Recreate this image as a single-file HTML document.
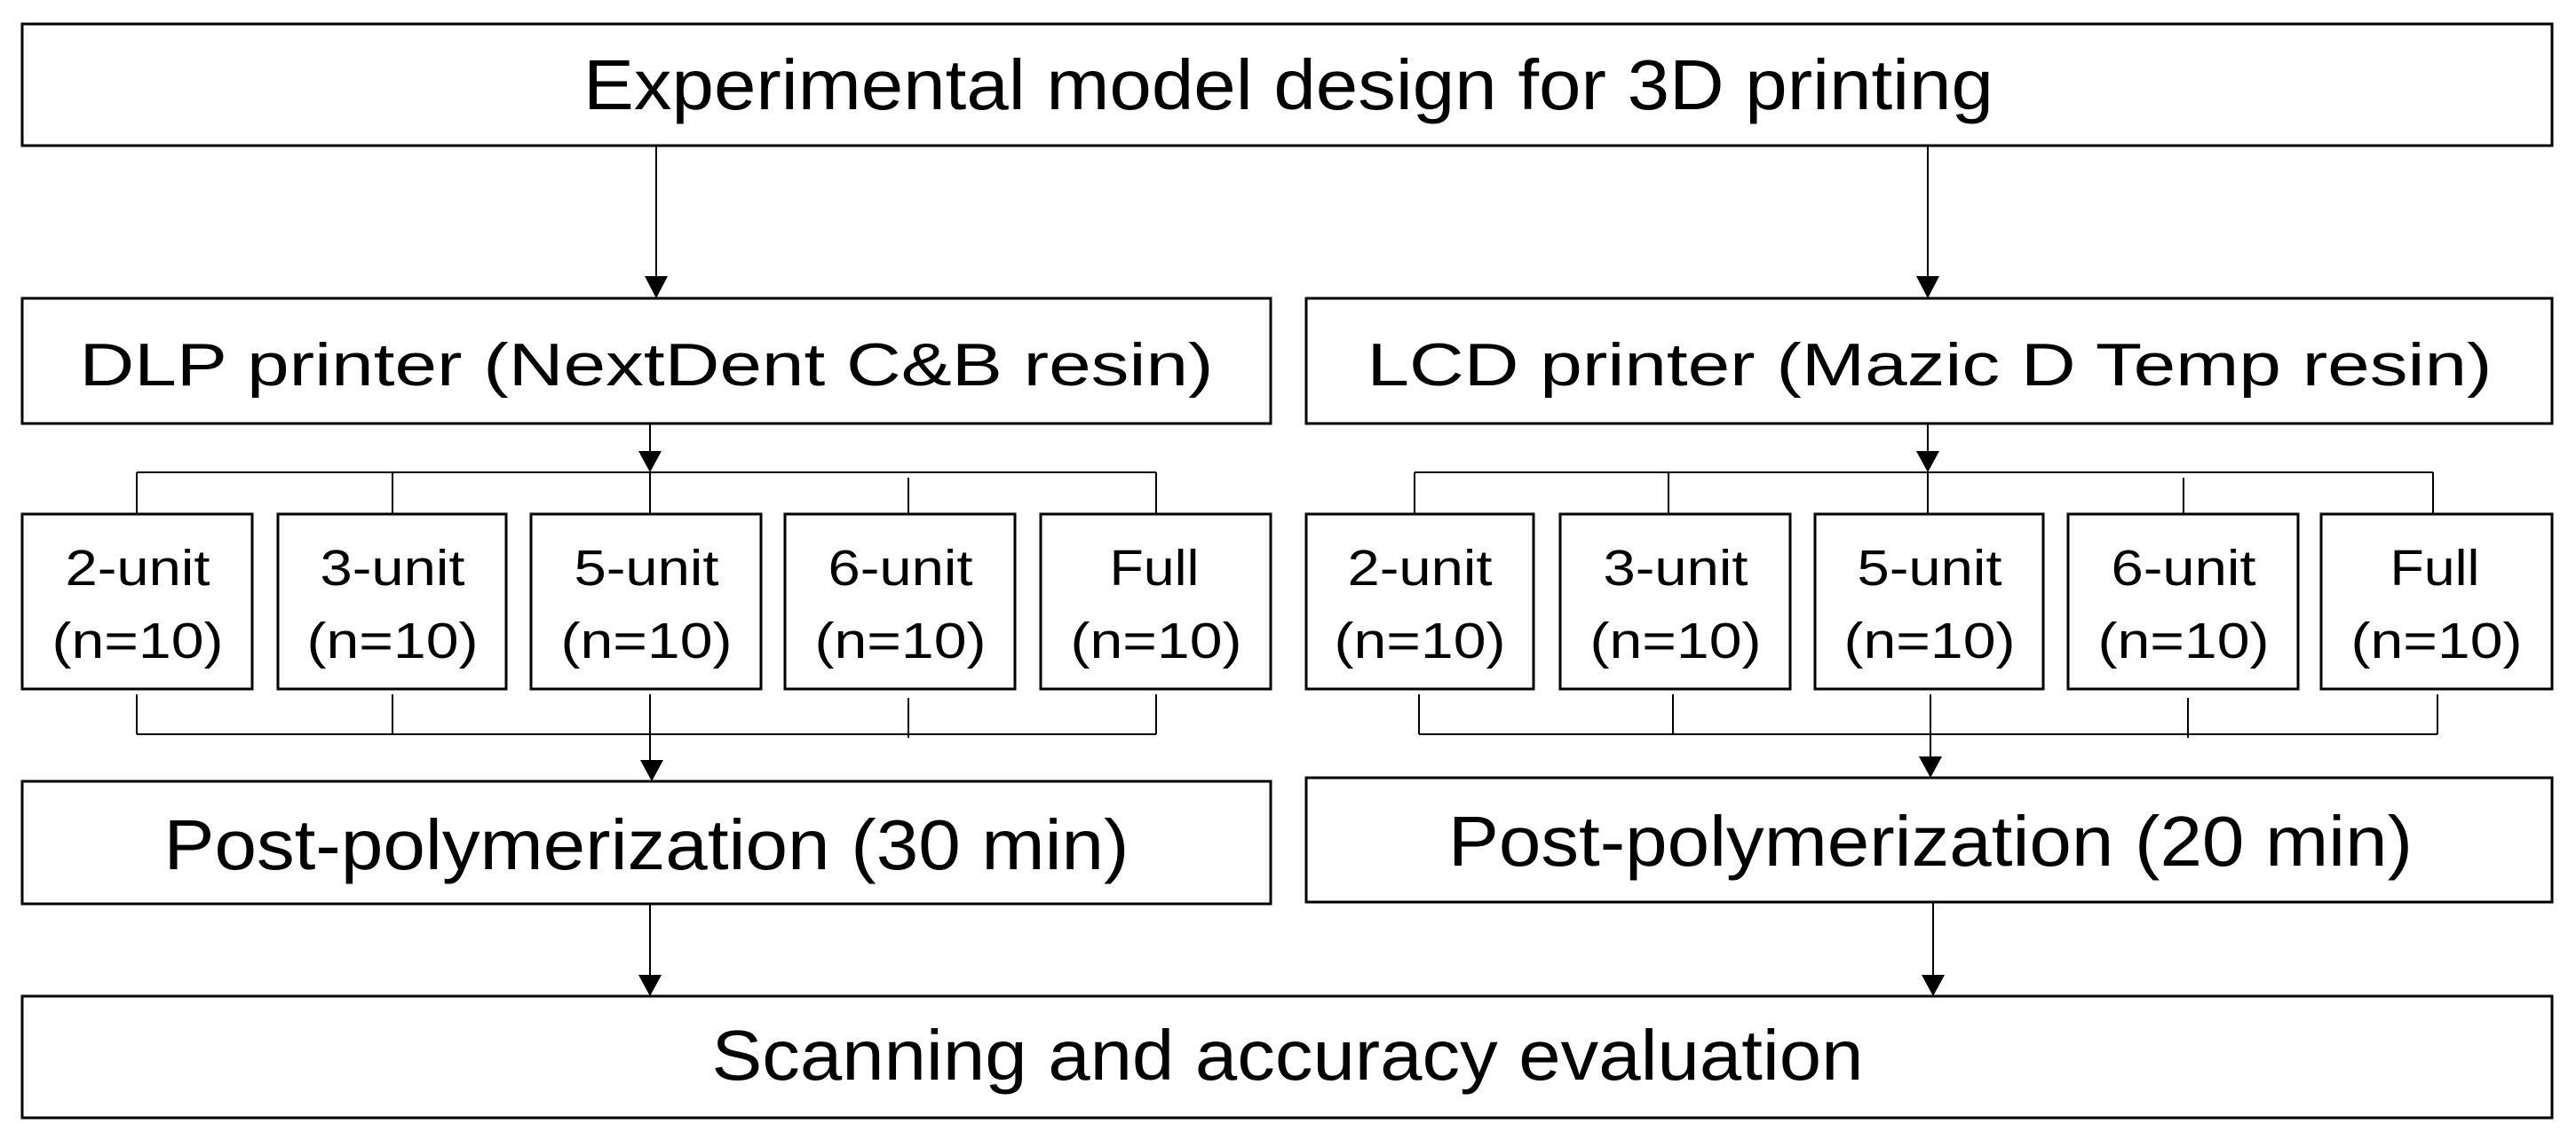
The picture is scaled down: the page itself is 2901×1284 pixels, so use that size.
<!DOCTYPE html>
<html><head><meta charset="utf-8"><style>html,body{margin:0;padding:0;background:#fff;overflow:hidden}svg{display:block}</style></head>
<body>
<svg width="2901" height="1284" viewBox="0 0 2901 1284" xmlns="http://www.w3.org/2000/svg" font-family="Liberation Sans, Arial, sans-serif" fill="#000">
<g fill="none" stroke="#000" stroke-width="3">
<rect x="25" y="27" width="2849" height="137"/>
<rect x="25" y="336" width="1406" height="141"/>
<rect x="1471" y="336" width="1403" height="141"/>
<rect x="25" y="579" width="259" height="197"/>
<rect x="313" y="579" width="257" height="197"/>
<rect x="598" y="579" width="259" height="197"/>
<rect x="884" y="579" width="259" height="197"/>
<rect x="1172" y="579" width="259" height="197"/>
<rect x="1471" y="579" width="256" height="197"/>
<rect x="1757" y="579" width="259" height="197"/>
<rect x="2044" y="579" width="257" height="197"/>
<rect x="2329" y="579" width="259" height="197"/>
<rect x="2614" y="579" width="260" height="197"/>
<rect x="25" y="880" width="1406" height="138"/>
<rect x="1471" y="876" width="1403" height="140"/>
<rect x="25" y="1122" width="2849" height="137"/>
</g>
<g fill="none" stroke="#000" stroke-width="2">
<path d="M739 164 V316"/>
<path d="M2171 164 V316"/>
<path d="M732 477 V512"/>
<path d="M2171 477 V512"/>
<path d="M154 532 H1302 M154 532 V579 M442 532 V579 M732 532 V579 M1023 538 V579 M1302 532 V579"/>
<path d="M1593 532 H2740 M1593 532 V579 M1879 532 V579 M2171 532 V579 M2459 538 V579 M2740 532 V579"/>
<path d="M154 827 H1302 M154 782 V827 M442 782 V827 M732 782 V860 M1023 786 V831 M1302 782 V827"/>
<path d="M1598 827 H2745 M1598 782 V827 M1884 782 V827 M2174 782 V856 M2464 786 V831 M2745 782 V827"/>
<path d="M732 1018 V1100"/>
<path d="M2177 1016 V1100"/>
</g>
<g>
<polygon points="726,311 752,311 739,336"/>
<polygon points="2158,311 2184,311 2171,336"/>
<polygon points="719,508 745,508 732,532"/>
<polygon points="2158,508 2184,508 2171,532"/>
<polygon points="721,856 747,856 734,880"/>
<polygon points="2161,852 2187,852 2174,876"/>
<polygon points="719,1098 745,1098 732,1122"/>
<polygon points="2164,1098 2190,1098 2177,1122"/>
</g>
<g text-anchor="middle">
<text x="1451" y="123" font-size="80" textLength="1588" lengthAdjust="spacingAndGlyphs">Experimental model design for 3D printing</text>
<text x="728" y="434" font-size="68" textLength="1277" lengthAdjust="spacingAndGlyphs">DLP printer (NextDent C&amp;B resin)</text>
<text x="2173" y="434" font-size="68" textLength="1267" lengthAdjust="spacingAndGlyphs">LCD printer (Mazic D Temp resin)</text>
<text x="728" y="979" font-size="80" textLength="1087" lengthAdjust="spacingAndGlyphs">Post-polymerization (30 min)</text>
<text x="2174" y="975" font-size="80" textLength="1086" lengthAdjust="spacingAndGlyphs">Post-polymerization (20 min)</text>
<text x="1450" y="1216" font-size="80" textLength="1297" lengthAdjust="spacingAndGlyphs">Scanning and accuracy evaluation</text>
</g>
<g text-anchor="middle" font-size="57">
<text x="155" y="659" textLength="163" lengthAdjust="spacingAndGlyphs">2-unit</text><text x="155" y="741" textLength="193" lengthAdjust="spacingAndGlyphs">(n=10)</text>
<text x="442" y="659" textLength="163" lengthAdjust="spacingAndGlyphs">3-unit</text><text x="442" y="741" textLength="193" lengthAdjust="spacingAndGlyphs">(n=10)</text>
<text x="728" y="659" textLength="163" lengthAdjust="spacingAndGlyphs">5-unit</text><text x="728" y="741" textLength="193" lengthAdjust="spacingAndGlyphs">(n=10)</text>
<text x="1014" y="659" textLength="163" lengthAdjust="spacingAndGlyphs">6-unit</text><text x="1014" y="741" textLength="193" lengthAdjust="spacingAndGlyphs">(n=10)</text>
<text x="1300" y="659" textLength="101" lengthAdjust="spacingAndGlyphs">Full</text><text x="1302" y="741" textLength="193" lengthAdjust="spacingAndGlyphs">(n=10)</text>
<text x="1599" y="659" textLength="163" lengthAdjust="spacingAndGlyphs">2-unit</text><text x="1599" y="741" textLength="193" lengthAdjust="spacingAndGlyphs">(n=10)</text>
<text x="1887" y="659" textLength="163" lengthAdjust="spacingAndGlyphs">3-unit</text><text x="1887" y="741" textLength="193" lengthAdjust="spacingAndGlyphs">(n=10)</text>
<text x="2173" y="659" textLength="163" lengthAdjust="spacingAndGlyphs">5-unit</text><text x="2173" y="741" textLength="193" lengthAdjust="spacingAndGlyphs">(n=10)</text>
<text x="2459" y="659" textLength="163" lengthAdjust="spacingAndGlyphs">6-unit</text><text x="2459" y="741" textLength="193" lengthAdjust="spacingAndGlyphs">(n=10)</text>
<text x="2742" y="659" textLength="101" lengthAdjust="spacingAndGlyphs">Full</text><text x="2744" y="741" textLength="193" lengthAdjust="spacingAndGlyphs">(n=10)</text>
</g>
</svg>
</body></html>
